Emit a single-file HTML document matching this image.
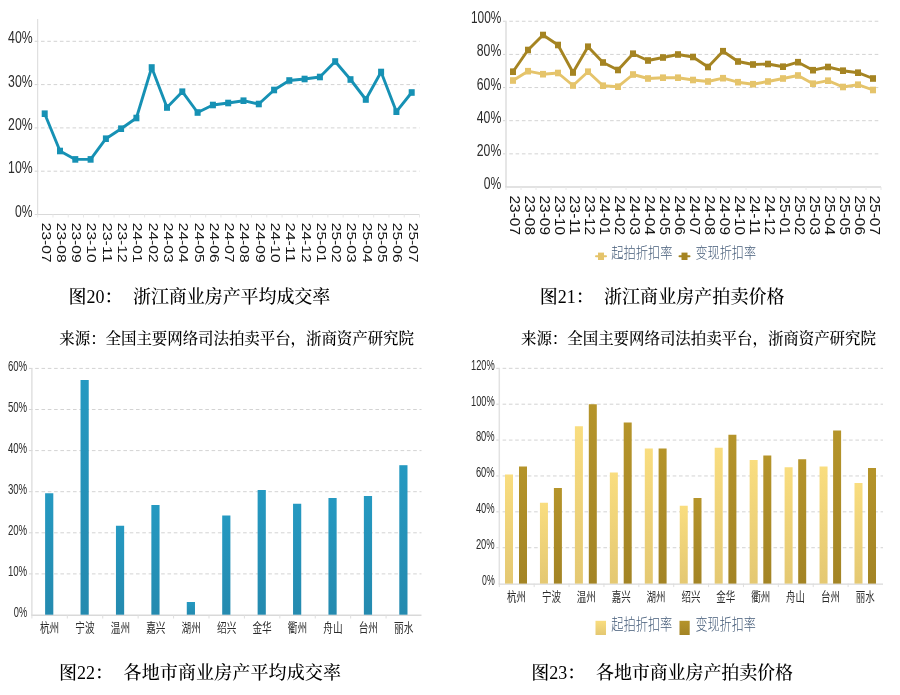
<!DOCTYPE html>
<html lang="zh-CN">
<head>
<meta charset="utf-8">
<title>浙江商业房产司法拍卖图表</title>
<style>
html,body{margin:0;padding:0;background:#fff;}
body{width:900px;height:695px;overflow:hidden;}
svg{display:block;}
</style>
</head>
<body>
<svg width="900" height="695" viewBox="0 0 900 695">
<defs>
<linearGradient id="gb" x1="0" y1="0" x2="0" y2="1"><stop offset="0" stop-color="#2599c1"/><stop offset="1" stop-color="#248aaf"/></linearGradient>
<linearGradient id="gl" x1="0" y1="0" x2="0" y2="1"><stop offset="0" stop-color="#f9dd7f"/><stop offset="1" stop-color="#e4c872"/></linearGradient>
<linearGradient id="gd" x1="0" y1="0" x2="0" y2="1"><stop offset="0" stop-color="#b5942a"/><stop offset="1" stop-color="#a38425"/></linearGradient>
</defs>
<rect width="900" height="695" fill="#fff"/>
<g id="c1">
<line x1="34.70" y1="171.20" x2="419.50" y2="171.20" stroke="#d3d3d3" stroke-width="1" stroke-dasharray="3.6 2.7"/>
<line x1="34.70" y1="127.90" x2="419.50" y2="127.90" stroke="#d3d3d3" stroke-width="1" stroke-dasharray="3.6 2.7"/>
<line x1="34.70" y1="84.60" x2="419.50" y2="84.60" stroke="#d3d3d3" stroke-width="1" stroke-dasharray="3.6 2.7"/>
<line x1="34.70" y1="41.30" x2="419.50" y2="41.30" stroke="#d3d3d3" stroke-width="1" stroke-dasharray="3.6 2.7"/>
<line x1="37.7" y1="19" x2="37.7" y2="215.0" stroke="#d9d9d9" stroke-width="1"/>
<line x1="34.7" y1="214.5" x2="419.5" y2="214.5" stroke="#d9d9d9" stroke-width="1.1"/>
<line x1="37.70" y1="214.5" x2="37.70" y2="217.5" stroke="#e8e8e8" stroke-width="1"/>
<line x1="52.97" y1="214.5" x2="52.97" y2="217.5" stroke="#e8e8e8" stroke-width="1"/>
<line x1="68.24" y1="214.5" x2="68.24" y2="217.5" stroke="#e8e8e8" stroke-width="1"/>
<line x1="83.52" y1="214.5" x2="83.52" y2="217.5" stroke="#e8e8e8" stroke-width="1"/>
<line x1="98.79" y1="214.5" x2="98.79" y2="217.5" stroke="#e8e8e8" stroke-width="1"/>
<line x1="114.06" y1="214.5" x2="114.06" y2="217.5" stroke="#e8e8e8" stroke-width="1"/>
<line x1="129.33" y1="214.5" x2="129.33" y2="217.5" stroke="#e8e8e8" stroke-width="1"/>
<line x1="144.60" y1="214.5" x2="144.60" y2="217.5" stroke="#e8e8e8" stroke-width="1"/>
<line x1="159.88" y1="214.5" x2="159.88" y2="217.5" stroke="#e8e8e8" stroke-width="1"/>
<line x1="175.15" y1="214.5" x2="175.15" y2="217.5" stroke="#e8e8e8" stroke-width="1"/>
<line x1="190.42" y1="214.5" x2="190.42" y2="217.5" stroke="#e8e8e8" stroke-width="1"/>
<line x1="205.69" y1="214.5" x2="205.69" y2="217.5" stroke="#e8e8e8" stroke-width="1"/>
<line x1="220.96" y1="214.5" x2="220.96" y2="217.5" stroke="#e8e8e8" stroke-width="1"/>
<line x1="236.24" y1="214.5" x2="236.24" y2="217.5" stroke="#e8e8e8" stroke-width="1"/>
<line x1="251.51" y1="214.5" x2="251.51" y2="217.5" stroke="#e8e8e8" stroke-width="1"/>
<line x1="266.78" y1="214.5" x2="266.78" y2="217.5" stroke="#e8e8e8" stroke-width="1"/>
<line x1="282.05" y1="214.5" x2="282.05" y2="217.5" stroke="#e8e8e8" stroke-width="1"/>
<line x1="297.32" y1="214.5" x2="297.32" y2="217.5" stroke="#e8e8e8" stroke-width="1"/>
<line x1="312.60" y1="214.5" x2="312.60" y2="217.5" stroke="#e8e8e8" stroke-width="1"/>
<line x1="327.87" y1="214.5" x2="327.87" y2="217.5" stroke="#e8e8e8" stroke-width="1"/>
<line x1="343.14" y1="214.5" x2="343.14" y2="217.5" stroke="#e8e8e8" stroke-width="1"/>
<line x1="358.41" y1="214.5" x2="358.41" y2="217.5" stroke="#e8e8e8" stroke-width="1"/>
<line x1="373.68" y1="214.5" x2="373.68" y2="217.5" stroke="#e8e8e8" stroke-width="1"/>
<line x1="388.96" y1="214.5" x2="388.96" y2="217.5" stroke="#e8e8e8" stroke-width="1"/>
<line x1="404.23" y1="214.5" x2="404.23" y2="217.5" stroke="#e8e8e8" stroke-width="1"/>
<line x1="419.50" y1="214.5" x2="419.50" y2="217.5" stroke="#e8e8e8" stroke-width="1"/>
<text x="32.60" y="216.50" text-anchor="end" font-family='"Liberation Sans", "Noto Sans CJK SC", sans-serif' font-size="16" fill="#2b2b2b" textLength="17.5" lengthAdjust="spacingAndGlyphs">0%</text>
<text x="32.60" y="173.20" text-anchor="end" font-family='"Liberation Sans", "Noto Sans CJK SC", sans-serif' font-size="16" fill="#2b2b2b" textLength="24.5" lengthAdjust="spacingAndGlyphs">10%</text>
<text x="32.60" y="129.90" text-anchor="end" font-family='"Liberation Sans", "Noto Sans CJK SC", sans-serif' font-size="16" fill="#2b2b2b" textLength="24.5" lengthAdjust="spacingAndGlyphs">20%</text>
<text x="32.60" y="86.60" text-anchor="end" font-family='"Liberation Sans", "Noto Sans CJK SC", sans-serif' font-size="16" fill="#2b2b2b" textLength="24.5" lengthAdjust="spacingAndGlyphs">30%</text>
<text x="32.60" y="43.30" text-anchor="end" font-family='"Liberation Sans", "Noto Sans CJK SC", sans-serif' font-size="16" fill="#2b2b2b" textLength="24.5" lengthAdjust="spacingAndGlyphs">40%</text>
<polyline points="44.7,113.7 60.0,151.0 75.3,159.4 90.6,159.4 105.9,138.7 121.1,128.7 136.4,118.0 151.7,67.5 167.0,107.5 182.3,91.7 197.6,112.5 212.9,105.0 228.2,103.0 243.5,100.7 258.8,104.0 274.1,90.0 289.3,80.5 304.6,79.0 319.9,77.0 335.2,61.5 350.5,79.5 365.8,99.5 381.1,72.0 396.4,111.7 411.7,92.5" fill="none" stroke="#1691b4" stroke-width="2.9" stroke-linejoin="round" stroke-linecap="round"/>
<rect x="41.7" y="110.4" width="6" height="6.6" fill="#1691b4"/>
<rect x="57.0" y="147.7" width="6" height="6.6" fill="#1691b4"/>
<rect x="72.3" y="156.1" width="6" height="6.6" fill="#1691b4"/>
<rect x="87.6" y="156.1" width="6" height="6.6" fill="#1691b4"/>
<rect x="102.9" y="135.4" width="6" height="6.6" fill="#1691b4"/>
<rect x="118.1" y="125.4" width="6" height="6.6" fill="#1691b4"/>
<rect x="133.4" y="114.7" width="6" height="6.6" fill="#1691b4"/>
<rect x="148.7" y="64.2" width="6" height="6.6" fill="#1691b4"/>
<rect x="164.0" y="104.2" width="6" height="6.6" fill="#1691b4"/>
<rect x="179.3" y="88.4" width="6" height="6.6" fill="#1691b4"/>
<rect x="194.6" y="109.2" width="6" height="6.6" fill="#1691b4"/>
<rect x="209.9" y="101.7" width="6" height="6.6" fill="#1691b4"/>
<rect x="225.2" y="99.7" width="6" height="6.6" fill="#1691b4"/>
<rect x="240.5" y="97.4" width="6" height="6.6" fill="#1691b4"/>
<rect x="255.8" y="100.7" width="6" height="6.6" fill="#1691b4"/>
<rect x="271.1" y="86.7" width="6" height="6.6" fill="#1691b4"/>
<rect x="286.3" y="77.2" width="6" height="6.6" fill="#1691b4"/>
<rect x="301.6" y="75.7" width="6" height="6.6" fill="#1691b4"/>
<rect x="316.9" y="73.7" width="6" height="6.6" fill="#1691b4"/>
<rect x="332.2" y="58.2" width="6" height="6.6" fill="#1691b4"/>
<rect x="347.5" y="76.2" width="6" height="6.6" fill="#1691b4"/>
<rect x="362.8" y="96.2" width="6" height="6.6" fill="#1691b4"/>
<rect x="378.1" y="68.7" width="6" height="6.6" fill="#1691b4"/>
<rect x="393.4" y="108.4" width="6" height="6.6" fill="#1691b4"/>
<rect x="408.7" y="89.2" width="6" height="6.6" fill="#1691b4"/>
<text transform="translate(41.60,222.80) rotate(90)" x="0" y="0" font-family='"Liberation Sans", "Noto Sans CJK SC", sans-serif' font-size="13.6" fill="#151515" textLength="39.8" lengthAdjust="spacingAndGlyphs">23-07</text>
<text transform="translate(56.89,222.80) rotate(90)" x="0" y="0" font-family='"Liberation Sans", "Noto Sans CJK SC", sans-serif' font-size="13.6" fill="#151515" textLength="39.8" lengthAdjust="spacingAndGlyphs">23-08</text>
<text transform="translate(72.18,222.80) rotate(90)" x="0" y="0" font-family='"Liberation Sans", "Noto Sans CJK SC", sans-serif' font-size="13.6" fill="#151515" textLength="39.8" lengthAdjust="spacingAndGlyphs">23-09</text>
<text transform="translate(87.47,222.80) rotate(90)" x="0" y="0" font-family='"Liberation Sans", "Noto Sans CJK SC", sans-serif' font-size="13.6" fill="#151515" textLength="39.8" lengthAdjust="spacingAndGlyphs">23-10</text>
<text transform="translate(102.76,222.80) rotate(90)" x="0" y="0" font-family='"Liberation Sans", "Noto Sans CJK SC", sans-serif' font-size="13.6" fill="#151515" textLength="39.8" lengthAdjust="spacingAndGlyphs">23-11</text>
<text transform="translate(118.05,222.80) rotate(90)" x="0" y="0" font-family='"Liberation Sans", "Noto Sans CJK SC", sans-serif' font-size="13.6" fill="#151515" textLength="39.8" lengthAdjust="spacingAndGlyphs">23-12</text>
<text transform="translate(133.34,222.80) rotate(90)" x="0" y="0" font-family='"Liberation Sans", "Noto Sans CJK SC", sans-serif' font-size="13.6" fill="#151515" textLength="39.8" lengthAdjust="spacingAndGlyphs">24-01</text>
<text transform="translate(148.63,222.80) rotate(90)" x="0" y="0" font-family='"Liberation Sans", "Noto Sans CJK SC", sans-serif' font-size="13.6" fill="#151515" textLength="39.8" lengthAdjust="spacingAndGlyphs">24-02</text>
<text transform="translate(163.92,222.80) rotate(90)" x="0" y="0" font-family='"Liberation Sans", "Noto Sans CJK SC", sans-serif' font-size="13.6" fill="#151515" textLength="39.8" lengthAdjust="spacingAndGlyphs">24-03</text>
<text transform="translate(179.21,222.80) rotate(90)" x="0" y="0" font-family='"Liberation Sans", "Noto Sans CJK SC", sans-serif' font-size="13.6" fill="#151515" textLength="39.8" lengthAdjust="spacingAndGlyphs">24-04</text>
<text transform="translate(194.50,222.80) rotate(90)" x="0" y="0" font-family='"Liberation Sans", "Noto Sans CJK SC", sans-serif' font-size="13.6" fill="#151515" textLength="39.8" lengthAdjust="spacingAndGlyphs">24-05</text>
<text transform="translate(209.79,222.80) rotate(90)" x="0" y="0" font-family='"Liberation Sans", "Noto Sans CJK SC", sans-serif' font-size="13.6" fill="#151515" textLength="39.8" lengthAdjust="spacingAndGlyphs">24-06</text>
<text transform="translate(225.08,222.80) rotate(90)" x="0" y="0" font-family='"Liberation Sans", "Noto Sans CJK SC", sans-serif' font-size="13.6" fill="#151515" textLength="39.8" lengthAdjust="spacingAndGlyphs">24-07</text>
<text transform="translate(240.37,222.80) rotate(90)" x="0" y="0" font-family='"Liberation Sans", "Noto Sans CJK SC", sans-serif' font-size="13.6" fill="#151515" textLength="39.8" lengthAdjust="spacingAndGlyphs">24-08</text>
<text transform="translate(255.66,222.80) rotate(90)" x="0" y="0" font-family='"Liberation Sans", "Noto Sans CJK SC", sans-serif' font-size="13.6" fill="#151515" textLength="39.8" lengthAdjust="spacingAndGlyphs">24-09</text>
<text transform="translate(270.95,222.80) rotate(90)" x="0" y="0" font-family='"Liberation Sans", "Noto Sans CJK SC", sans-serif' font-size="13.6" fill="#151515" textLength="39.8" lengthAdjust="spacingAndGlyphs">24-10</text>
<text transform="translate(286.24,222.80) rotate(90)" x="0" y="0" font-family='"Liberation Sans", "Noto Sans CJK SC", sans-serif' font-size="13.6" fill="#151515" textLength="39.8" lengthAdjust="spacingAndGlyphs">24-11</text>
<text transform="translate(301.53,222.80) rotate(90)" x="0" y="0" font-family='"Liberation Sans", "Noto Sans CJK SC", sans-serif' font-size="13.6" fill="#151515" textLength="39.8" lengthAdjust="spacingAndGlyphs">24-12</text>
<text transform="translate(316.82,222.80) rotate(90)" x="0" y="0" font-family='"Liberation Sans", "Noto Sans CJK SC", sans-serif' font-size="13.6" fill="#151515" textLength="39.8" lengthAdjust="spacingAndGlyphs">25-01</text>
<text transform="translate(332.11,222.80) rotate(90)" x="0" y="0" font-family='"Liberation Sans", "Noto Sans CJK SC", sans-serif' font-size="13.6" fill="#151515" textLength="39.8" lengthAdjust="spacingAndGlyphs">25-02</text>
<text transform="translate(347.40,222.80) rotate(90)" x="0" y="0" font-family='"Liberation Sans", "Noto Sans CJK SC", sans-serif' font-size="13.6" fill="#151515" textLength="39.8" lengthAdjust="spacingAndGlyphs">25-03</text>
<text transform="translate(362.69,222.80) rotate(90)" x="0" y="0" font-family='"Liberation Sans", "Noto Sans CJK SC", sans-serif' font-size="13.6" fill="#151515" textLength="39.8" lengthAdjust="spacingAndGlyphs">25-04</text>
<text transform="translate(377.98,222.80) rotate(90)" x="0" y="0" font-family='"Liberation Sans", "Noto Sans CJK SC", sans-serif' font-size="13.6" fill="#151515" textLength="39.8" lengthAdjust="spacingAndGlyphs">25-05</text>
<text transform="translate(393.27,222.80) rotate(90)" x="0" y="0" font-family='"Liberation Sans", "Noto Sans CJK SC", sans-serif' font-size="13.6" fill="#151515" textLength="39.8" lengthAdjust="spacingAndGlyphs">25-06</text>
<text transform="translate(408.56,222.80) rotate(90)" x="0" y="0" font-family='"Liberation Sans", "Noto Sans CJK SC", sans-serif' font-size="13.6" fill="#151515" textLength="39.8" lengthAdjust="spacingAndGlyphs">25-07</text>
</g>
<g id="c2">
<line x1="503.00" y1="153.85" x2="881.00" y2="153.85" stroke="#d3d3d3" stroke-width="1" stroke-dasharray="3.6 2.7"/>
<line x1="503.00" y1="120.70" x2="881.00" y2="120.70" stroke="#d3d3d3" stroke-width="1" stroke-dasharray="3.6 2.7"/>
<line x1="503.00" y1="87.55" x2="881.00" y2="87.55" stroke="#d3d3d3" stroke-width="1" stroke-dasharray="3.6 2.7"/>
<line x1="503.00" y1="54.40" x2="881.00" y2="54.40" stroke="#d3d3d3" stroke-width="1" stroke-dasharray="3.6 2.7"/>
<line x1="503.00" y1="21.25" x2="881.00" y2="21.25" stroke="#d3d3d3" stroke-width="1" stroke-dasharray="3.6 2.7"/>
<line x1="506" y1="21.25" x2="506" y2="187.5" stroke="#e4e4e4" stroke-width="1.8"/>
<line x1="505.1" y1="187" x2="881" y2="187" stroke="#d9d9d9" stroke-width="1.4"/>
<line x1="506.00" y1="187" x2="506.00" y2="190" stroke="#e8e8e8" stroke-width="1"/>
<line x1="521.00" y1="187" x2="521.00" y2="190" stroke="#e8e8e8" stroke-width="1"/>
<line x1="536.00" y1="187" x2="536.00" y2="190" stroke="#e8e8e8" stroke-width="1"/>
<line x1="551.00" y1="187" x2="551.00" y2="190" stroke="#e8e8e8" stroke-width="1"/>
<line x1="566.00" y1="187" x2="566.00" y2="190" stroke="#e8e8e8" stroke-width="1"/>
<line x1="581.00" y1="187" x2="581.00" y2="190" stroke="#e8e8e8" stroke-width="1"/>
<line x1="596.00" y1="187" x2="596.00" y2="190" stroke="#e8e8e8" stroke-width="1"/>
<line x1="611.00" y1="187" x2="611.00" y2="190" stroke="#e8e8e8" stroke-width="1"/>
<line x1="626.00" y1="187" x2="626.00" y2="190" stroke="#e8e8e8" stroke-width="1"/>
<line x1="641.00" y1="187" x2="641.00" y2="190" stroke="#e8e8e8" stroke-width="1"/>
<line x1="656.00" y1="187" x2="656.00" y2="190" stroke="#e8e8e8" stroke-width="1"/>
<line x1="671.00" y1="187" x2="671.00" y2="190" stroke="#e8e8e8" stroke-width="1"/>
<line x1="686.00" y1="187" x2="686.00" y2="190" stroke="#e8e8e8" stroke-width="1"/>
<line x1="701.00" y1="187" x2="701.00" y2="190" stroke="#e8e8e8" stroke-width="1"/>
<line x1="716.00" y1="187" x2="716.00" y2="190" stroke="#e8e8e8" stroke-width="1"/>
<line x1="731.00" y1="187" x2="731.00" y2="190" stroke="#e8e8e8" stroke-width="1"/>
<line x1="746.00" y1="187" x2="746.00" y2="190" stroke="#e8e8e8" stroke-width="1"/>
<line x1="761.00" y1="187" x2="761.00" y2="190" stroke="#e8e8e8" stroke-width="1"/>
<line x1="776.00" y1="187" x2="776.00" y2="190" stroke="#e8e8e8" stroke-width="1"/>
<line x1="791.00" y1="187" x2="791.00" y2="190" stroke="#e8e8e8" stroke-width="1"/>
<line x1="806.00" y1="187" x2="806.00" y2="190" stroke="#e8e8e8" stroke-width="1"/>
<line x1="821.00" y1="187" x2="821.00" y2="190" stroke="#e8e8e8" stroke-width="1"/>
<line x1="836.00" y1="187" x2="836.00" y2="190" stroke="#e8e8e8" stroke-width="1"/>
<line x1="851.00" y1="187" x2="851.00" y2="190" stroke="#e8e8e8" stroke-width="1"/>
<line x1="866.00" y1="187" x2="866.00" y2="190" stroke="#e8e8e8" stroke-width="1"/>
<line x1="881.00" y1="187" x2="881.00" y2="190" stroke="#e8e8e8" stroke-width="1"/>
<text x="501.30" y="189.00" text-anchor="end" font-family='"Liberation Sans", "Noto Sans CJK SC", sans-serif' font-size="16" fill="#2b2b2b" textLength="17.5" lengthAdjust="spacingAndGlyphs">0%</text>
<text x="501.30" y="155.85" text-anchor="end" font-family='"Liberation Sans", "Noto Sans CJK SC", sans-serif' font-size="16" fill="#2b2b2b" textLength="24.5" lengthAdjust="spacingAndGlyphs">20%</text>
<text x="501.30" y="122.70" text-anchor="end" font-family='"Liberation Sans", "Noto Sans CJK SC", sans-serif' font-size="16" fill="#2b2b2b" textLength="24.5" lengthAdjust="spacingAndGlyphs">40%</text>
<text x="501.30" y="89.55" text-anchor="end" font-family='"Liberation Sans", "Noto Sans CJK SC", sans-serif' font-size="16" fill="#2b2b2b" textLength="24.5" lengthAdjust="spacingAndGlyphs">60%</text>
<text x="501.30" y="56.40" text-anchor="end" font-family='"Liberation Sans", "Noto Sans CJK SC", sans-serif' font-size="16" fill="#2b2b2b" textLength="24.5" lengthAdjust="spacingAndGlyphs">80%</text>
<text x="501.30" y="23.25" text-anchor="end" font-family='"Liberation Sans", "Noto Sans CJK SC", sans-serif' font-size="16" fill="#2b2b2b" textLength="30.3" lengthAdjust="spacingAndGlyphs">100%</text>
<polyline points="513.0,80.5 528.0,71.2 543.0,74.2 558.0,73.0 573.0,85.5 588.0,71.7 603.0,85.7 618.0,86.7 633.0,74.5 648.0,78.5 663.0,77.7 678.0,77.7 693.0,80.0 708.0,81.5 723.0,78.2 738.0,82.2 753.0,84.2 768.0,81.5 783.0,78.5 798.0,75.5 813.0,83.7 828.0,80.7 843.0,87.0 858.0,84.7 873.0,90.0" fill="none" stroke="#e5c46b" stroke-width="2.9" stroke-linejoin="round" stroke-linecap="round"/>
<rect x="510.0" y="77.2" width="6" height="6.6" fill="#e5c46b"/>
<rect x="525.0" y="67.9" width="6" height="6.6" fill="#e5c46b"/>
<rect x="540.0" y="70.9" width="6" height="6.6" fill="#e5c46b"/>
<rect x="555.0" y="69.7" width="6" height="6.6" fill="#e5c46b"/>
<rect x="570.0" y="82.2" width="6" height="6.6" fill="#e5c46b"/>
<rect x="585.0" y="68.4" width="6" height="6.6" fill="#e5c46b"/>
<rect x="600.0" y="82.4" width="6" height="6.6" fill="#e5c46b"/>
<rect x="615.0" y="83.4" width="6" height="6.6" fill="#e5c46b"/>
<rect x="630.0" y="71.2" width="6" height="6.6" fill="#e5c46b"/>
<rect x="645.0" y="75.2" width="6" height="6.6" fill="#e5c46b"/>
<rect x="660.0" y="74.4" width="6" height="6.6" fill="#e5c46b"/>
<rect x="675.0" y="74.4" width="6" height="6.6" fill="#e5c46b"/>
<rect x="690.0" y="76.7" width="6" height="6.6" fill="#e5c46b"/>
<rect x="705.0" y="78.2" width="6" height="6.6" fill="#e5c46b"/>
<rect x="720.0" y="74.9" width="6" height="6.6" fill="#e5c46b"/>
<rect x="735.0" y="78.9" width="6" height="6.6" fill="#e5c46b"/>
<rect x="750.0" y="80.9" width="6" height="6.6" fill="#e5c46b"/>
<rect x="765.0" y="78.2" width="6" height="6.6" fill="#e5c46b"/>
<rect x="780.0" y="75.2" width="6" height="6.6" fill="#e5c46b"/>
<rect x="795.0" y="72.2" width="6" height="6.6" fill="#e5c46b"/>
<rect x="810.0" y="80.4" width="6" height="6.6" fill="#e5c46b"/>
<rect x="825.0" y="77.4" width="6" height="6.6" fill="#e5c46b"/>
<rect x="840.0" y="83.7" width="6" height="6.6" fill="#e5c46b"/>
<rect x="855.0" y="81.4" width="6" height="6.6" fill="#e5c46b"/>
<rect x="870.0" y="86.7" width="6" height="6.6" fill="#e5c46b"/>
<polyline points="513.0,71.7 528.0,50.0 543.0,35.0 558.0,45.0 573.0,72.5 588.0,46.7 603.0,62.5 618.0,70.0 633.0,53.7 648.0,60.5 663.0,57.5 678.0,54.5 693.0,57.0 708.0,67.0 723.0,51.2 738.0,61.5 753.0,64.5 768.0,64.0 783.0,66.7 798.0,62.2 813.0,70.2 828.0,67.0 843.0,70.7 858.0,72.7 873.0,78.5" fill="none" stroke="#a58422" stroke-width="2.9" stroke-linejoin="round" stroke-linecap="round"/>
<rect x="510.0" y="68.4" width="6" height="6.6" fill="#a58422"/>
<rect x="525.0" y="46.7" width="6" height="6.6" fill="#a58422"/>
<rect x="540.0" y="31.7" width="6" height="6.6" fill="#a58422"/>
<rect x="555.0" y="41.7" width="6" height="6.6" fill="#a58422"/>
<rect x="570.0" y="69.2" width="6" height="6.6" fill="#a58422"/>
<rect x="585.0" y="43.4" width="6" height="6.6" fill="#a58422"/>
<rect x="600.0" y="59.2" width="6" height="6.6" fill="#a58422"/>
<rect x="615.0" y="66.7" width="6" height="6.6" fill="#a58422"/>
<rect x="630.0" y="50.4" width="6" height="6.6" fill="#a58422"/>
<rect x="645.0" y="57.2" width="6" height="6.6" fill="#a58422"/>
<rect x="660.0" y="54.2" width="6" height="6.6" fill="#a58422"/>
<rect x="675.0" y="51.2" width="6" height="6.6" fill="#a58422"/>
<rect x="690.0" y="53.7" width="6" height="6.6" fill="#a58422"/>
<rect x="705.0" y="63.7" width="6" height="6.6" fill="#a58422"/>
<rect x="720.0" y="47.9" width="6" height="6.6" fill="#a58422"/>
<rect x="735.0" y="58.2" width="6" height="6.6" fill="#a58422"/>
<rect x="750.0" y="61.2" width="6" height="6.6" fill="#a58422"/>
<rect x="765.0" y="60.7" width="6" height="6.6" fill="#a58422"/>
<rect x="780.0" y="63.4" width="6" height="6.6" fill="#a58422"/>
<rect x="795.0" y="58.9" width="6" height="6.6" fill="#a58422"/>
<rect x="810.0" y="66.9" width="6" height="6.6" fill="#a58422"/>
<rect x="825.0" y="63.7" width="6" height="6.6" fill="#a58422"/>
<rect x="840.0" y="67.4" width="6" height="6.6" fill="#a58422"/>
<rect x="855.0" y="69.4" width="6" height="6.6" fill="#a58422"/>
<rect x="870.0" y="75.2" width="6" height="6.6" fill="#a58422"/>
<text transform="translate(509.50,195.50) rotate(90)" x="0" y="0" font-family='"Liberation Sans", "Noto Sans CJK SC", sans-serif' font-size="15" fill="#151515" textLength="39.5" lengthAdjust="spacingAndGlyphs">23-07</text>
<text transform="translate(524.50,195.50) rotate(90)" x="0" y="0" font-family='"Liberation Sans", "Noto Sans CJK SC", sans-serif' font-size="15" fill="#151515" textLength="39.5" lengthAdjust="spacingAndGlyphs">23-08</text>
<text transform="translate(539.50,195.50) rotate(90)" x="0" y="0" font-family='"Liberation Sans", "Noto Sans CJK SC", sans-serif' font-size="15" fill="#151515" textLength="39.5" lengthAdjust="spacingAndGlyphs">23-09</text>
<text transform="translate(554.50,195.50) rotate(90)" x="0" y="0" font-family='"Liberation Sans", "Noto Sans CJK SC", sans-serif' font-size="15" fill="#151515" textLength="39.5" lengthAdjust="spacingAndGlyphs">23-10</text>
<text transform="translate(569.50,195.50) rotate(90)" x="0" y="0" font-family='"Liberation Sans", "Noto Sans CJK SC", sans-serif' font-size="15" fill="#151515" textLength="39.5" lengthAdjust="spacingAndGlyphs">23-11</text>
<text transform="translate(584.50,195.50) rotate(90)" x="0" y="0" font-family='"Liberation Sans", "Noto Sans CJK SC", sans-serif' font-size="15" fill="#151515" textLength="39.5" lengthAdjust="spacingAndGlyphs">23-12</text>
<text transform="translate(599.50,195.50) rotate(90)" x="0" y="0" font-family='"Liberation Sans", "Noto Sans CJK SC", sans-serif' font-size="15" fill="#151515" textLength="39.5" lengthAdjust="spacingAndGlyphs">24-01</text>
<text transform="translate(614.50,195.50) rotate(90)" x="0" y="0" font-family='"Liberation Sans", "Noto Sans CJK SC", sans-serif' font-size="15" fill="#151515" textLength="39.5" lengthAdjust="spacingAndGlyphs">24-02</text>
<text transform="translate(629.50,195.50) rotate(90)" x="0" y="0" font-family='"Liberation Sans", "Noto Sans CJK SC", sans-serif' font-size="15" fill="#151515" textLength="39.5" lengthAdjust="spacingAndGlyphs">24-03</text>
<text transform="translate(644.50,195.50) rotate(90)" x="0" y="0" font-family='"Liberation Sans", "Noto Sans CJK SC", sans-serif' font-size="15" fill="#151515" textLength="39.5" lengthAdjust="spacingAndGlyphs">24-04</text>
<text transform="translate(659.50,195.50) rotate(90)" x="0" y="0" font-family='"Liberation Sans", "Noto Sans CJK SC", sans-serif' font-size="15" fill="#151515" textLength="39.5" lengthAdjust="spacingAndGlyphs">24-05</text>
<text transform="translate(674.50,195.50) rotate(90)" x="0" y="0" font-family='"Liberation Sans", "Noto Sans CJK SC", sans-serif' font-size="15" fill="#151515" textLength="39.5" lengthAdjust="spacingAndGlyphs">24-06</text>
<text transform="translate(689.50,195.50) rotate(90)" x="0" y="0" font-family='"Liberation Sans", "Noto Sans CJK SC", sans-serif' font-size="15" fill="#151515" textLength="39.5" lengthAdjust="spacingAndGlyphs">24-07</text>
<text transform="translate(704.50,195.50) rotate(90)" x="0" y="0" font-family='"Liberation Sans", "Noto Sans CJK SC", sans-serif' font-size="15" fill="#151515" textLength="39.5" lengthAdjust="spacingAndGlyphs">24-08</text>
<text transform="translate(719.50,195.50) rotate(90)" x="0" y="0" font-family='"Liberation Sans", "Noto Sans CJK SC", sans-serif' font-size="15" fill="#151515" textLength="39.5" lengthAdjust="spacingAndGlyphs">24-09</text>
<text transform="translate(734.50,195.50) rotate(90)" x="0" y="0" font-family='"Liberation Sans", "Noto Sans CJK SC", sans-serif' font-size="15" fill="#151515" textLength="39.5" lengthAdjust="spacingAndGlyphs">24-10</text>
<text transform="translate(749.50,195.50) rotate(90)" x="0" y="0" font-family='"Liberation Sans", "Noto Sans CJK SC", sans-serif' font-size="15" fill="#151515" textLength="39.5" lengthAdjust="spacingAndGlyphs">24-11</text>
<text transform="translate(764.50,195.50) rotate(90)" x="0" y="0" font-family='"Liberation Sans", "Noto Sans CJK SC", sans-serif' font-size="15" fill="#151515" textLength="39.5" lengthAdjust="spacingAndGlyphs">24-12</text>
<text transform="translate(779.50,195.50) rotate(90)" x="0" y="0" font-family='"Liberation Sans", "Noto Sans CJK SC", sans-serif' font-size="15" fill="#151515" textLength="39.5" lengthAdjust="spacingAndGlyphs">25-01</text>
<text transform="translate(794.50,195.50) rotate(90)" x="0" y="0" font-family='"Liberation Sans", "Noto Sans CJK SC", sans-serif' font-size="15" fill="#151515" textLength="39.5" lengthAdjust="spacingAndGlyphs">25-02</text>
<text transform="translate(809.50,195.50) rotate(90)" x="0" y="0" font-family='"Liberation Sans", "Noto Sans CJK SC", sans-serif' font-size="15" fill="#151515" textLength="39.5" lengthAdjust="spacingAndGlyphs">25-03</text>
<text transform="translate(824.50,195.50) rotate(90)" x="0" y="0" font-family='"Liberation Sans", "Noto Sans CJK SC", sans-serif' font-size="15" fill="#151515" textLength="39.5" lengthAdjust="spacingAndGlyphs">25-04</text>
<text transform="translate(839.50,195.50) rotate(90)" x="0" y="0" font-family='"Liberation Sans", "Noto Sans CJK SC", sans-serif' font-size="15" fill="#151515" textLength="39.5" lengthAdjust="spacingAndGlyphs">25-05</text>
<text transform="translate(854.50,195.50) rotate(90)" x="0" y="0" font-family='"Liberation Sans", "Noto Sans CJK SC", sans-serif' font-size="15" fill="#151515" textLength="39.5" lengthAdjust="spacingAndGlyphs">25-06</text>
<text transform="translate(869.50,195.50) rotate(90)" x="0" y="0" font-family='"Liberation Sans", "Noto Sans CJK SC", sans-serif' font-size="15" fill="#151515" textLength="39.5" lengthAdjust="spacingAndGlyphs">25-07</text>
<line x1="596.0" y1="256.3" x2="606.0" y2="256.3" stroke="#e5c46b" stroke-width="2" stroke-linecap="round"/>
<rect x="598" y="252.60000000000002" width="6" height="7.4" fill="#e5c46b"/>
<text x="611.3" y="258.3" font-family='"Liberation Sans", "Noto Sans CJK SC", sans-serif' font-weight="300" font-size="14.3" fill="#445b78" textLength="61.2" lengthAdjust="spacingAndGlyphs">起拍折扣率</text>
<line x1="679.5" y1="256.3" x2="689.5" y2="256.3" stroke="#a58422" stroke-width="2" stroke-linecap="round"/>
<rect x="681.5" y="252.60000000000002" width="6" height="7.4" fill="#a58422"/>
<text x="695.5" y="258.3" font-family='"Liberation Sans", "Noto Sans CJK SC", sans-serif' font-weight="300" font-size="14.3" fill="#445b78" textLength="60.5" lengthAdjust="spacingAndGlyphs">变现折扣率</text>
</g>
<g id="c3">
<line x1="28.90" y1="573.90" x2="421.50" y2="573.90" stroke="#d3d3d3" stroke-width="1" stroke-dasharray="3.6 2.7"/>
<line x1="28.90" y1="532.80" x2="421.50" y2="532.80" stroke="#d3d3d3" stroke-width="1" stroke-dasharray="3.6 2.7"/>
<line x1="28.90" y1="491.70" x2="421.50" y2="491.70" stroke="#d3d3d3" stroke-width="1" stroke-dasharray="3.6 2.7"/>
<line x1="28.90" y1="450.60" x2="421.50" y2="450.60" stroke="#d3d3d3" stroke-width="1" stroke-dasharray="3.6 2.7"/>
<line x1="28.90" y1="409.50" x2="421.50" y2="409.50" stroke="#d3d3d3" stroke-width="1" stroke-dasharray="3.6 2.7"/>
<line x1="28.90" y1="368.40" x2="421.50" y2="368.40" stroke="#d3d3d3" stroke-width="1" stroke-dasharray="3.6 2.7"/>
<line x1="31.9" y1="368.4" x2="31.9" y2="615.5" stroke="#d9d9d9" stroke-width="1.2"/>
<line x1="31.299999999999997" y1="615.2" x2="421.5" y2="615.2" stroke="#d9d9d9" stroke-width="1.4"/>
<line x1="31.90" y1="615" x2="31.90" y2="618.5" stroke="#dedede" stroke-width="1"/>
<line x1="67.32" y1="615" x2="67.32" y2="618.5" stroke="#dedede" stroke-width="1"/>
<line x1="102.74" y1="615" x2="102.74" y2="618.5" stroke="#dedede" stroke-width="1"/>
<line x1="138.15" y1="615" x2="138.15" y2="618.5" stroke="#dedede" stroke-width="1"/>
<line x1="173.57" y1="615" x2="173.57" y2="618.5" stroke="#dedede" stroke-width="1"/>
<line x1="208.99" y1="615" x2="208.99" y2="618.5" stroke="#dedede" stroke-width="1"/>
<line x1="244.41" y1="615" x2="244.41" y2="618.5" stroke="#dedede" stroke-width="1"/>
<line x1="279.83" y1="615" x2="279.83" y2="618.5" stroke="#dedede" stroke-width="1"/>
<line x1="315.25" y1="615" x2="315.25" y2="618.5" stroke="#dedede" stroke-width="1"/>
<line x1="350.66" y1="615" x2="350.66" y2="618.5" stroke="#dedede" stroke-width="1"/>
<line x1="386.08" y1="615" x2="386.08" y2="618.5" stroke="#dedede" stroke-width="1"/>
<text x="27.20" y="617.10" text-anchor="end" font-family='"Liberation Sans", "Noto Sans CJK SC", sans-serif' font-size="14.4" fill="#2b2b2b" textLength="13.4" lengthAdjust="spacingAndGlyphs">0%</text>
<text x="27.20" y="576.00" text-anchor="end" font-family='"Liberation Sans", "Noto Sans CJK SC", sans-serif' font-size="14.4" fill="#2b2b2b" textLength="19.3" lengthAdjust="spacingAndGlyphs">10%</text>
<text x="27.20" y="534.90" text-anchor="end" font-family='"Liberation Sans", "Noto Sans CJK SC", sans-serif' font-size="14.4" fill="#2b2b2b" textLength="19.3" lengthAdjust="spacingAndGlyphs">20%</text>
<text x="27.20" y="493.80" text-anchor="end" font-family='"Liberation Sans", "Noto Sans CJK SC", sans-serif' font-size="14.4" fill="#2b2b2b" textLength="19.3" lengthAdjust="spacingAndGlyphs">30%</text>
<text x="27.20" y="452.70" text-anchor="end" font-family='"Liberation Sans", "Noto Sans CJK SC", sans-serif' font-size="14.4" fill="#2b2b2b" textLength="19.3" lengthAdjust="spacingAndGlyphs">40%</text>
<text x="27.20" y="411.60" text-anchor="end" font-family='"Liberation Sans", "Noto Sans CJK SC", sans-serif' font-size="14.4" fill="#2b2b2b" textLength="19.3" lengthAdjust="spacingAndGlyphs">50%</text>
<text x="27.20" y="370.50" text-anchor="end" font-family='"Liberation Sans", "Noto Sans CJK SC", sans-serif' font-size="14.4" fill="#2b2b2b" textLength="19.3" lengthAdjust="spacingAndGlyphs">60%</text>
<rect x="45.11" y="493.25" width="8.2" height="121.45" fill="url(#gb)"/>
<text x="39.91" y="632" font-family='"Liberation Sans", "Noto Sans CJK SC", sans-serif' font-size="12.6" fill="#2b2b2b" textLength="19.3" lengthAdjust="spacingAndGlyphs">杭州</text>
<rect x="80.53" y="380.00" width="8.2" height="234.70" fill="url(#gb)"/>
<text x="75.33" y="632" font-family='"Liberation Sans", "Noto Sans CJK SC", sans-serif' font-size="12.6" fill="#2b2b2b" textLength="19.3" lengthAdjust="spacingAndGlyphs">宁波</text>
<rect x="115.95" y="525.75" width="8.2" height="88.95" fill="url(#gb)"/>
<text x="110.75" y="632" font-family='"Liberation Sans", "Noto Sans CJK SC", sans-serif' font-size="12.6" fill="#2b2b2b" textLength="19.3" lengthAdjust="spacingAndGlyphs">温州</text>
<rect x="151.36" y="505.00" width="8.2" height="109.70" fill="url(#gb)"/>
<text x="146.16" y="632" font-family='"Liberation Sans", "Noto Sans CJK SC", sans-serif' font-size="12.6" fill="#2b2b2b" textLength="19.3" lengthAdjust="spacingAndGlyphs">嘉兴</text>
<rect x="186.78" y="602.00" width="8.2" height="12.70" fill="url(#gb)"/>
<text x="181.58" y="632" font-family='"Liberation Sans", "Noto Sans CJK SC", sans-serif' font-size="12.6" fill="#2b2b2b" textLength="19.3" lengthAdjust="spacingAndGlyphs">湖州</text>
<rect x="222.20" y="515.50" width="8.2" height="99.20" fill="url(#gb)"/>
<text x="217.00" y="632" font-family='"Liberation Sans", "Noto Sans CJK SC", sans-serif' font-size="12.6" fill="#2b2b2b" textLength="19.3" lengthAdjust="spacingAndGlyphs">绍兴</text>
<rect x="257.62" y="490.00" width="8.2" height="124.70" fill="url(#gb)"/>
<text x="252.42" y="632" font-family='"Liberation Sans", "Noto Sans CJK SC", sans-serif' font-size="12.6" fill="#2b2b2b" textLength="19.3" lengthAdjust="spacingAndGlyphs">金华</text>
<rect x="293.04" y="503.75" width="8.2" height="110.95" fill="url(#gb)"/>
<text x="287.84" y="632" font-family='"Liberation Sans", "Noto Sans CJK SC", sans-serif' font-size="12.6" fill="#2b2b2b" textLength="19.3" lengthAdjust="spacingAndGlyphs">衢州</text>
<rect x="328.45" y="498.00" width="8.2" height="116.70" fill="url(#gb)"/>
<text x="323.25" y="632" font-family='"Liberation Sans", "Noto Sans CJK SC", sans-serif' font-size="12.6" fill="#2b2b2b" textLength="19.3" lengthAdjust="spacingAndGlyphs">舟山</text>
<rect x="363.87" y="496.00" width="8.2" height="118.70" fill="url(#gb)"/>
<text x="358.67" y="632" font-family='"Liberation Sans", "Noto Sans CJK SC", sans-serif' font-size="12.6" fill="#2b2b2b" textLength="19.3" lengthAdjust="spacingAndGlyphs">台州</text>
<rect x="399.29" y="465.20" width="8.2" height="149.50" fill="url(#gb)"/>
<text x="394.09" y="632" font-family='"Liberation Sans", "Noto Sans CJK SC", sans-serif' font-size="12.6" fill="#2b2b2b" textLength="19.3" lengthAdjust="spacingAndGlyphs">丽水</text>
</g>
<g id="c4">
<line x1="496.30" y1="547.72" x2="883.00" y2="547.72" stroke="#d3d3d3" stroke-width="1" stroke-dasharray="3.6 2.7"/>
<line x1="496.30" y1="511.84" x2="883.00" y2="511.84" stroke="#d3d3d3" stroke-width="1" stroke-dasharray="3.6 2.7"/>
<line x1="496.30" y1="475.96" x2="883.00" y2="475.96" stroke="#d3d3d3" stroke-width="1" stroke-dasharray="3.6 2.7"/>
<line x1="496.30" y1="440.08" x2="883.00" y2="440.08" stroke="#d3d3d3" stroke-width="1" stroke-dasharray="3.6 2.7"/>
<line x1="496.30" y1="404.20" x2="883.00" y2="404.20" stroke="#d3d3d3" stroke-width="1" stroke-dasharray="3.6 2.7"/>
<line x1="496.30" y1="368.32" x2="883.00" y2="368.32" stroke="#d3d3d3" stroke-width="1" stroke-dasharray="3.6 2.7"/>
<line x1="499.3" y1="368.32" x2="499.3" y2="584.1" stroke="#e2e2e2" stroke-width="1.5"/>
<line x1="498.6" y1="584.1" x2="883" y2="584.1" stroke="#d9d9d9" stroke-width="1.4"/>
<line x1="499.30" y1="583.6" x2="499.30" y2="587.1" stroke="#dedede" stroke-width="1"/>
<line x1="534.18" y1="583.6" x2="534.18" y2="587.1" stroke="#dedede" stroke-width="1"/>
<line x1="569.06" y1="583.6" x2="569.06" y2="587.1" stroke="#dedede" stroke-width="1"/>
<line x1="603.95" y1="583.6" x2="603.95" y2="587.1" stroke="#dedede" stroke-width="1"/>
<line x1="638.83" y1="583.6" x2="638.83" y2="587.1" stroke="#dedede" stroke-width="1"/>
<line x1="673.71" y1="583.6" x2="673.71" y2="587.1" stroke="#dedede" stroke-width="1"/>
<line x1="708.59" y1="583.6" x2="708.59" y2="587.1" stroke="#dedede" stroke-width="1"/>
<line x1="743.47" y1="583.6" x2="743.47" y2="587.1" stroke="#dedede" stroke-width="1"/>
<line x1="778.35" y1="583.6" x2="778.35" y2="587.1" stroke="#dedede" stroke-width="1"/>
<line x1="813.24" y1="583.6" x2="813.24" y2="587.1" stroke="#dedede" stroke-width="1"/>
<line x1="848.12" y1="583.6" x2="848.12" y2="587.1" stroke="#dedede" stroke-width="1"/>
<text x="494.70" y="584.90" text-anchor="end" font-family='"Liberation Sans", "Noto Sans CJK SC", sans-serif' font-size="14" fill="#2b2b2b" textLength="12.6" lengthAdjust="spacingAndGlyphs">0%</text>
<text x="494.70" y="549.02" text-anchor="end" font-family='"Liberation Sans", "Noto Sans CJK SC", sans-serif' font-size="14" fill="#2b2b2b" textLength="18.8" lengthAdjust="spacingAndGlyphs">20%</text>
<text x="494.70" y="513.14" text-anchor="end" font-family='"Liberation Sans", "Noto Sans CJK SC", sans-serif' font-size="14" fill="#2b2b2b" textLength="18.8" lengthAdjust="spacingAndGlyphs">40%</text>
<text x="494.70" y="477.26" text-anchor="end" font-family='"Liberation Sans", "Noto Sans CJK SC", sans-serif' font-size="14" fill="#2b2b2b" textLength="18.8" lengthAdjust="spacingAndGlyphs">60%</text>
<text x="494.70" y="441.38" text-anchor="end" font-family='"Liberation Sans", "Noto Sans CJK SC", sans-serif' font-size="14" fill="#2b2b2b" textLength="18.8" lengthAdjust="spacingAndGlyphs">80%</text>
<text x="494.70" y="405.50" text-anchor="end" font-family='"Liberation Sans", "Noto Sans CJK SC", sans-serif' font-size="14" fill="#2b2b2b" textLength="23.7" lengthAdjust="spacingAndGlyphs">100%</text>
<text x="494.70" y="369.62" text-anchor="end" font-family='"Liberation Sans", "Noto Sans CJK SC", sans-serif' font-size="14" fill="#2b2b2b" textLength="23.7" lengthAdjust="spacingAndGlyphs">120%</text>
<rect x="505.00" y="474.50" width="8" height="109.10" fill="url(#gl)"/>
<rect x="519.00" y="466.50" width="8" height="117.10" fill="url(#gd)"/>
<text x="507.04" y="601" font-family='"Liberation Sans", "Noto Sans CJK SC", sans-serif' font-size="12.6" fill="#2b2b2b" textLength="19" lengthAdjust="spacingAndGlyphs">杭州</text>
<rect x="539.95" y="502.75" width="8" height="80.85" fill="url(#gl)"/>
<rect x="553.90" y="488.00" width="8" height="95.60" fill="url(#gd)"/>
<text x="541.92" y="601" font-family='"Liberation Sans", "Noto Sans CJK SC", sans-serif' font-size="12.6" fill="#2b2b2b" textLength="19" lengthAdjust="spacingAndGlyphs">宁波</text>
<rect x="574.90" y="426.25" width="8" height="157.35" fill="url(#gl)"/>
<rect x="588.80" y="404.25" width="8" height="179.35" fill="url(#gd)"/>
<text x="576.80" y="601" font-family='"Liberation Sans", "Noto Sans CJK SC", sans-serif' font-size="12.6" fill="#2b2b2b" textLength="19" lengthAdjust="spacingAndGlyphs">温州</text>
<rect x="609.85" y="472.50" width="8" height="111.10" fill="url(#gl)"/>
<rect x="623.70" y="422.50" width="8" height="161.10" fill="url(#gd)"/>
<text x="611.69" y="601" font-family='"Liberation Sans", "Noto Sans CJK SC", sans-serif' font-size="12.6" fill="#2b2b2b" textLength="19" lengthAdjust="spacingAndGlyphs">嘉兴</text>
<rect x="644.80" y="448.50" width="8" height="135.10" fill="url(#gl)"/>
<rect x="658.60" y="448.50" width="8" height="135.10" fill="url(#gd)"/>
<text x="646.57" y="601" font-family='"Liberation Sans", "Noto Sans CJK SC", sans-serif' font-size="12.6" fill="#2b2b2b" textLength="19" lengthAdjust="spacingAndGlyphs">湖州</text>
<rect x="679.75" y="505.75" width="8" height="77.85" fill="url(#gl)"/>
<rect x="693.50" y="498.00" width="8" height="85.60" fill="url(#gd)"/>
<text x="681.45" y="601" font-family='"Liberation Sans", "Noto Sans CJK SC", sans-serif' font-size="12.6" fill="#2b2b2b" textLength="19" lengthAdjust="spacingAndGlyphs">绍兴</text>
<rect x="714.70" y="447.75" width="8" height="135.85" fill="url(#gl)"/>
<rect x="728.40" y="434.75" width="8" height="148.85" fill="url(#gd)"/>
<text x="716.33" y="601" font-family='"Liberation Sans", "Noto Sans CJK SC", sans-serif' font-size="12.6" fill="#2b2b2b" textLength="19" lengthAdjust="spacingAndGlyphs">金华</text>
<rect x="749.65" y="460.00" width="8" height="123.60" fill="url(#gl)"/>
<rect x="763.30" y="455.50" width="8" height="128.10" fill="url(#gd)"/>
<text x="751.21" y="601" font-family='"Liberation Sans", "Noto Sans CJK SC", sans-serif' font-size="12.6" fill="#2b2b2b" textLength="19" lengthAdjust="spacingAndGlyphs">衢州</text>
<rect x="784.60" y="467.25" width="8" height="116.35" fill="url(#gl)"/>
<rect x="798.20" y="459.25" width="8" height="124.35" fill="url(#gd)"/>
<text x="786.10" y="601" font-family='"Liberation Sans", "Noto Sans CJK SC", sans-serif' font-size="12.6" fill="#2b2b2b" textLength="19" lengthAdjust="spacingAndGlyphs">舟山</text>
<rect x="819.55" y="466.50" width="8" height="117.10" fill="url(#gl)"/>
<rect x="833.10" y="430.50" width="8" height="153.10" fill="url(#gd)"/>
<text x="820.98" y="601" font-family='"Liberation Sans", "Noto Sans CJK SC", sans-serif' font-size="12.6" fill="#2b2b2b" textLength="19" lengthAdjust="spacingAndGlyphs">台州</text>
<rect x="854.50" y="483.00" width="8" height="100.60" fill="url(#gl)"/>
<rect x="868.00" y="468.00" width="8" height="115.60" fill="url(#gd)"/>
<text x="855.86" y="601" font-family='"Liberation Sans", "Noto Sans CJK SC", sans-serif' font-size="12.6" fill="#2b2b2b" textLength="19" lengthAdjust="spacingAndGlyphs">丽水</text>
<rect x="595.5" y="620.8" width="10.5" height="14.2" fill="url(#gl)"/>
<text x="611.3" y="630" font-family='"Liberation Sans", "Noto Sans CJK SC", sans-serif' font-weight="300" font-size="15.4" fill="#445b78" textLength="61" lengthAdjust="spacingAndGlyphs">起拍折扣率</text>
<rect x="679.5" y="620.8" width="10.2" height="14.2" fill="url(#gd)"/>
<text x="695.5" y="630" font-family='"Liberation Sans", "Noto Sans CJK SC", sans-serif' font-weight="300" font-size="15.4" fill="#445b78" textLength="60.3" lengthAdjust="spacingAndGlyphs">变现折扣率</text>
</g>
<text x="68.5" y="302.9" font-family='"Liberation Serif", "Noto Serif CJK SC", serif' font-size="18" font-weight="500" fill="#000">图20：</text>
<text x="133" y="302.9" font-family='"Liberation Serif", "Noto Serif CJK SC", serif' font-size="18" font-weight="500" fill="#000" textLength="197.3" lengthAdjust="spacing">浙江商业房产平均成交率</text>
<text x="539.8" y="302.9" font-family='"Liberation Serif", "Noto Serif CJK SC", serif' font-size="18" font-weight="500" fill="#000">图21：</text>
<text x="604" y="302.9" font-family='"Liberation Serif", "Noto Serif CJK SC", serif' font-size="18" font-weight="500" fill="#000" textLength="180.5" lengthAdjust="spacing">浙江商业房产拍卖价格</text>
<text x="59" y="678.5" font-family='"Liberation Serif", "Noto Serif CJK SC", serif' font-size="18" font-weight="500" fill="#000">图22：</text>
<text x="123.6" y="678.5" font-family='"Liberation Serif", "Noto Serif CJK SC", serif' font-size="18" font-weight="500" fill="#000" textLength="217.4" lengthAdjust="spacing">各地市商业房产平均成交率</text>
<text x="531.3" y="678.5" font-family='"Liberation Serif", "Noto Serif CJK SC", serif' font-size="18" font-weight="500" fill="#000">图23：</text>
<text x="596" y="678.5" font-family='"Liberation Serif", "Noto Serif CJK SC", serif' font-size="18" font-weight="500" fill="#000" textLength="197.0" lengthAdjust="spacing">各地市商业房产拍卖价格</text>
<text x="59.3" y="343.5" font-family='"Liberation Serif", "Noto Serif CJK SC", serif'  font-size="15.5" font-weight="500" fill="#000" textLength="354.7" lengthAdjust="spacing">来源：全国主要网络司法拍卖平台，浙商资产研究院</text>
<text x="521" y="343.5" font-family='"Liberation Serif", "Noto Serif CJK SC", serif'  font-size="15.5" font-weight="500" fill="#000" textLength="355.0" lengthAdjust="spacing">来源：全国主要网络司法拍卖平台，浙商资产研究院</text>
</svg>
</body>
</html>
